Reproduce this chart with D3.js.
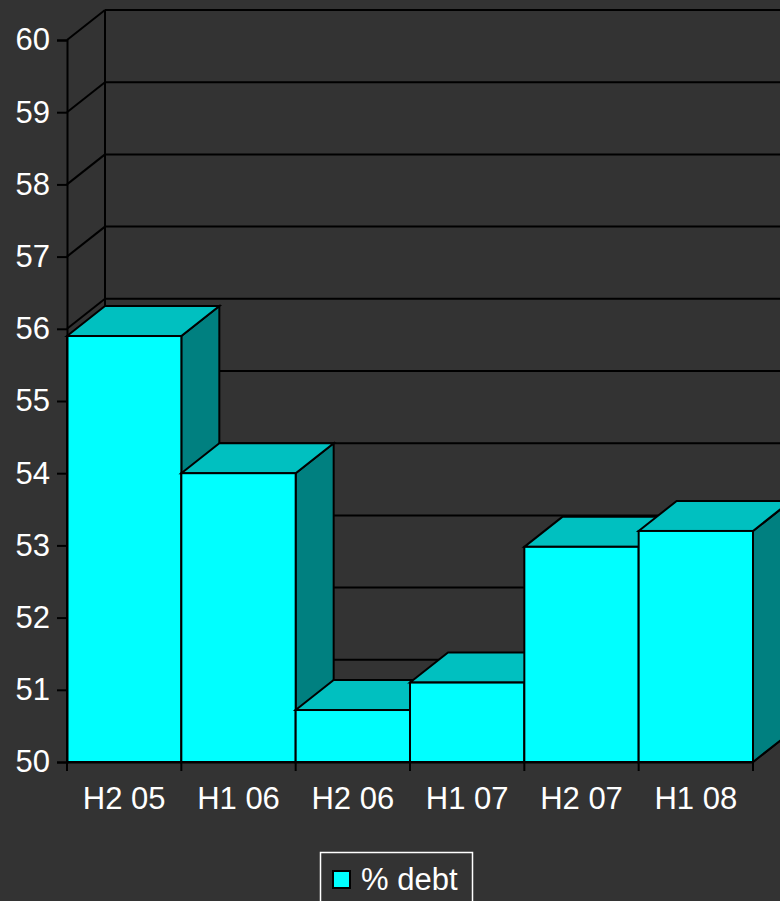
<!DOCTYPE html>
<html>
<head>
<meta charset="utf-8">
<script src="https://cdn.jsdelivr.net/npm/d3@7"></script>
<style>
  html, body { margin: 0; padding: 0; background: #333333; }
  svg { display: block; }
</style>
</head>
<body>
<svg id="chart" width="780" height="901"></svg>
<script>
// Half-year periods and share of debt (%)
const categories = ["H2 05", "H1 06", "H2 06", "H1 07", "H2 07", "H1 08"];
const debtValues = [55.9, 54.0, 50.72, 51.1, 52.98, 53.2];
const yTicks = [50, 51, 52, 53, 54, 55, 56, 57, 58, 59, 60];
const seriesName = "% debt";

const W = 780, H = 901;
const depthX = 38, depthY = -30;          // oblique offset of the back wall
const font = "'Liberation Sans', Arial, sans-serif";
const fontSize = "31px";

const svg = d3.select("#chart");
svg.append("rect").attr("width", W).attr("height", H).attr("fill", "#333333");

const x = d3.scaleBand().domain(categories).range([67, 753]).paddingInner(0).paddingOuter(0);
const y = d3.scaleLinear().domain([50, 60]).range([762, 40]);

const line = "#000000";
const sw = 2;
const x0 = x.range()[0], x1 = x.range()[1];

// Back wall and side wall grid
const grid = svg.append("g").attr("stroke", line).attr("stroke-width", sw).attr("fill", "none");
yTicks.forEach(t => {
  grid.append("line")
    .attr("x1", x0 + depthX).attr("x2", x1 + depthX)
    .attr("y1", y(t) + depthY).attr("y2", y(t) + depthY);
  grid.append("line")
    .attr("x1", x0).attr("x2", x0 + depthX)
    .attr("y1", y(t)).attr("y2", y(t) + depthY);
});
// back wall left edge
grid.append("line")
  .attr("x1", x0 + depthX).attr("x2", x0 + depthX)
  .attr("y1", y(60) + depthY).attr("y2", y(50) + depthY);
// floor right edge
grid.append("line")
  .attr("x1", x1).attr("x2", x1 + depthX)
  .attr("y1", y(50)).attr("y2", y(50) + depthY);

// 3D bars, drawn left to right so nearer faces cover neighbours' sides
const bars = svg.append("g").attr("stroke", line).attr("stroke-width", sw).attr("stroke-linejoin", "miter");
categories.forEach((c, i) => {
  const v = debtValues[i];
  const bx0 = x(c), bx1 = x(c) + x.bandwidth();
  const yt = y(v), yb = y(50);
  // side face
  bars.append("path")
    .attr("d", `M${bx1},${yt}L${bx1 + depthX},${yt + depthY}L${bx1 + depthX},${yb + depthY}L${bx1},${yb}Z`)
    .attr("fill", "#008080");
  // top face
  bars.append("path")
    .attr("d", `M${bx0},${yt}L${bx0 + depthX},${yt + depthY}L${bx1 + depthX},${yt + depthY}L${bx1},${yt}Z`)
    .attr("fill", "#00C0C0");
  // front face
  bars.append("rect")
    .attr("x", bx0).attr("y", yt)
    .attr("width", bx1 - bx0).attr("height", yb - yt)
    .attr("fill", "#00FFFF");
});

// Y axis
const yAxis = svg.append("g")
  .attr("transform", `translate(${x0},0)`)
  .call(d3.axisLeft(y).tickValues(yTicks).tickSize(10).tickPadding(7).tickFormat(d3.format("d")));
yAxis.select(".domain").attr("stroke", line).attr("stroke-width", sw);
yAxis.selectAll(".tick line").attr("stroke", line).attr("stroke-width", sw);
yAxis.selectAll(".tick text")
  .attr("fill", "#ffffff").style("font-family", font).style("font-size", fontSize);

// X axis
const xAxis = svg.append("g")
  .attr("transform", `translate(0,${y(50)})`)
  .call(d3.axisBottom(x).tickSize(0).tickPadding(25));
xAxis.select(".domain").attr("stroke", line).attr("stroke-width", sw);
xAxis.selectAll(".tick text")
  .attr("fill", "#ffffff").style("font-family", font).style("font-size", fontSize);
// boundary tick marks between categories
const bounds = categories.map(c => x(c)).concat([x1]);
xAxis.selectAll(".bound").data(bounds).enter().append("line")
  .attr("class", "bound")
  .attr("x1", d => d).attr("x2", d => d)
  .attr("y1", 0).attr("y2", 9)
  .attr("stroke", line).attr("stroke-width", sw);

// Legend
const lg = svg.append("g");
lg.append("rect")
  .attr("x", 320.5).attr("y", 852.5).attr("width", 152).attr("height", 60)
  .attr("fill", "none").attr("stroke", "#ffffff").attr("stroke-width", 1.5);
lg.append("rect")
  .attr("x", 333).attr("y", 871).attr("width", 17).attr("height", 17)
  .attr("fill", "#00FFFF").attr("stroke", line).attr("stroke-width", 2);
lg.append("text")
  .attr("x", 361).attr("y", 890)
  .attr("fill", "#ffffff").style("font-family", font).style("font-size", fontSize)
  .text(seriesName);
</script>
</body>
</html>
